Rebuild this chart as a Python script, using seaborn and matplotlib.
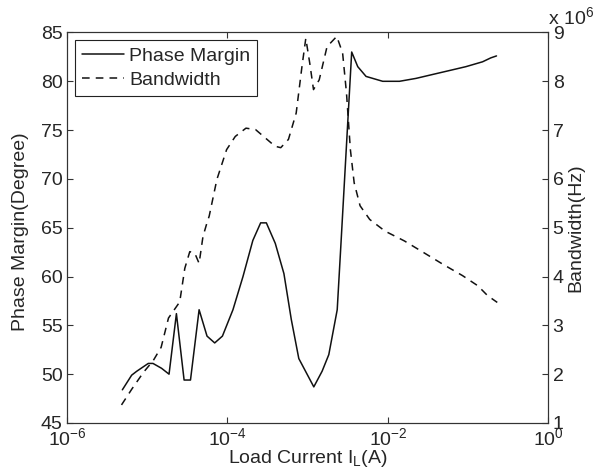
import pandas as pd
import seaborn as sns
import matplotlib.pyplot as plt
from matplotlib.lines import Line2D

# Phase margin (degree) versus load current (A)
pm_current = [4.9e-6, 6.4e-6, 7.4e-6, 1.03e-5, 1.18e-5, 1.51e-5, 1.87e-5, 2.31e-5,
              2.88e-5, 3.46e-5, 4.43e-5, 5.56e-5, 6.93e-5, 8.65e-5, 1.17e-4, 1.56e-4,
              2.07e-4, 2.59e-4, 3.05e-4, 3.94e-4, 5.05e-4, 6.24e-4, 7.74e-4, 1.19e-3,
              1.51e-3, 1.83e-3, 2.33e-3, 2.6e-3, 3.53e-3, 4.20e-3, 5.33e-3, 8.59e-3,
              1.39e-2, 2.24e-2, 3.60e-2, 5.81e-2, 9.35e-2, 0.151, 0.191, 0.225]
phase_margin = [48.4, 49.9, 50.3, 51.1, 51.1, 50.6, 50.0, 56.2,
                49.4, 49.4, 56.6, 53.9, 53.2, 53.9, 56.6, 60.0,
                63.7, 65.5, 65.5, 63.4, 60.3, 55.6, 51.6, 48.7,
                50.3, 52.0, 56.6, 63.5, 83.0, 81.5, 80.5, 80.0,
                80.0, 80.3, 80.7, 81.1, 81.5, 82.0, 82.4, 82.6]

# Bandwidth (x 10^6 Hz) versus load current (A)
bw_current = [4.78e-6, 6.46e-6, 9.0e-6, 1.19e-5, 1.49e-5, 1.84e-5, 2.54e-5, 2.94e-5,
              3.39e-5, 3.91e-5, 4.43e-5, 4.95e-5, 5.46e-5, 5.92e-5, 7.38e-5, 9.75e-5,
              1.25e-4, 1.70e-4, 2.24e-4, 2.96e-4, 3.91e-4, 4.61e-4, 5.75e-4, 7.18e-4,
              8.47e-4, 9.46e-4, 1.06e-3, 1.18e-3, 1.39e-3, 1.74e-3, 2.30e-3, 2.72e-3,
              3.04e-3, 3.40e-3, 3.79e-3, 4.49e-3, 5.92e-3, 9.20e-3, 1.60e-2, 2.79e-2,
              4.85e-2, 8.47e-2, 0.132, 0.174, 0.230]
bandwidth = [1.37, 1.70, 2.04, 2.28, 2.55, 3.15, 3.48, 4.17,
             4.51, 4.48, 4.27, 4.82, 5.06, 5.24, 5.99, 6.60,
             6.87, 7.04, 7.01, 6.84, 6.67, 6.64, 6.81, 7.35,
             8.30, 8.88, 8.37, 7.83, 8.03, 8.71, 8.92, 8.58,
             7.76, 6.60, 5.92, 5.45, 5.17, 4.93, 4.73, 4.49,
             4.25, 4.02, 3.81, 3.61, 3.47]

x_ticks = [1e-6, 1e-4, 1e-2, 1e0]
pm_ticks = [45, 50, 55, 60, 65, 70, 75, 80, 85]
bw_ticks = [1, 2, 3, 4, 5, 6, 7, 8, 9]

sns.set_style("ticks")
plt.rcParams['font.family'] = ['Liberation Sans', 'DejaVu Sans']
text_color = '#262626'
plt.rcParams.update({
    'xtick.direction': 'in', 'ytick.direction': 'in',
    'xtick.color': '#333333', 'ytick.color': '#333333',
    'xtick.labelcolor': text_color, 'ytick.labelcolor': text_color,
    'axes.edgecolor': '#333333', 'axes.linewidth': 0.8,
    'font.size': 14,
})

pm_df = pd.DataFrame({'current': pm_current, 'pm': phase_margin})
bw_df = pd.DataFrame({'current': bw_current, 'bw': bandwidth})

fig, ax = plt.subplots(figsize=(6.05, 4.75), dpi=100)
fig.subplots_adjust(left=0.1107, right=0.9066, top=0.9316, bottom=0.1095)
ax2 = ax.twinx()

sns.lineplot(data=pm_df, x='current', y='pm', ax=ax, color='#111111', lw=1.1,
             sort=False, estimator=None, legend=False)
sns.lineplot(data=bw_df, x='current', y='bw', ax=ax2, color='#111111', lw=1.1,
             sort=False, estimator=None, legend=False, dashes=False)
ax2.lines[0].set_dashes((5, 4))

ax.set_xscale('log')
ax.set_xlim(1e-6, 1e0)
ax.set_xticks(x_ticks)
ax.minorticks_off()
ax2.minorticks_off()
ax.set_ylim(45, 85)
ax.set_yticks(pm_ticks)
ax2.set_ylim(1, 9)
ax2.set_yticks(bw_ticks)

ax.tick_params(axis='x', which='both', top=True, bottom=True, labelsize=14, pad=3, length=4)
ax.tick_params(axis='y', labelsize=14, length=4, pad=3)
ax2.tick_params(axis='y', labelsize=14, length=4, pad=3)

ax.set_xlabel('Load Current $\\mathdefault{I_L}$(A)', fontsize=14, color=text_color)
ax.xaxis.set_label_coords(0.5, -0.065)
ax.set_ylabel('Phase Margin(Degree)', fontsize=14, color=text_color)
ax.yaxis.set_label_coords(-0.078, 0.49)
ax2.set_ylabel('Bandwidth(Hz)', fontsize=14, color=text_color)
ax2.yaxis.set_label_coords(1.039, 0.5)

ax2.text(1.0, 1.012, 'x $\\mathdefault{10^{6}}$', transform=ax2.transAxes,
         fontsize=14, color=text_color, ha='left', va='bottom')

handles = [Line2D([], [], color='#111111', lw=1.1),
           Line2D([], [], color='#111111', lw=1.1, dashes=(5, 4))]
leg = ax2.legend(handles, ['Phase Margin', 'Bandwidth'], loc='upper left',
                 fontsize=14, frameon=True, fancybox=False, framealpha=1,
                 edgecolor='#222222', handlelength=2.2, handletextpad=0.25,
                 labelspacing=0.35, borderaxespad=0.4, borderpad=0.35)
leg.get_frame().set_linewidth(0.8)
for t in leg.get_texts():
    t.set_color(text_color)

for a in (ax, ax2):
    for s in a.spines.values():
        s.set_visible(True)

fig.savefig('out.png', dpi=100)
